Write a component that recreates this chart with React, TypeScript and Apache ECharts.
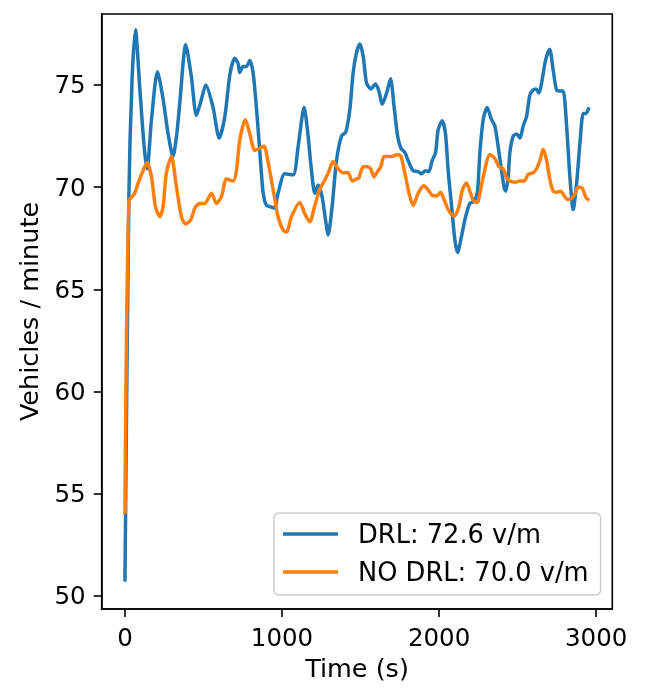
import React, { useEffect, useRef } from 'react';
import * as echarts from 'echarts';

const drlTime = [0, 25, 45, 67, 94, 122, 141, 169, 207, 243, 275, 306, 330, 349, 387, 423, 455, 487, 515, 561, 600, 636, 668, 699, 720, 731, 752, 774, 795, 816, 837, 859, 880, 901, 922, 950, 975, 1018, 1071, 1103, 1141, 1162, 1188, 1209, 1230, 1256, 1277, 1294, 1319, 1347, 1379, 1406, 1432, 1453, 1475, 1496, 1517, 1538, 1566, 1595, 1617, 1638, 1666, 1691, 1714, 1736, 1757, 1782, 1803, 1835, 1867, 1888, 1914, 1935, 1956, 1978, 1994, 2020, 2041, 2058, 2080, 2101, 2118, 2143, 2169, 2196, 2224, 2245, 2260, 2281, 2306, 2334, 2355, 2376, 2398, 2415, 2425, 2440, 2451, 2472, 2494, 2515, 2536, 2557, 2578, 2599, 2617, 2636, 2653, 2678, 2704, 2727, 2748, 2769, 2790, 2812, 2833, 2854, 2876, 2897, 2918, 2935, 2955];
const drlRate = [50.7, 69.5, 75.2, 77.7, 74.9, 72.0, 70.9, 73.3, 75.65, 74.3, 72.6, 71.5, 72.6, 74.1, 76.96, 75.4, 73.5, 74.3, 75.0, 73.9, 72.4, 73.45, 75.5, 76.3, 76.06, 75.6, 75.9, 75.9, 76.2, 75.6, 73.9, 71.7, 69.7, 69.1, 69.05, 68.97, 69.7, 70.65, 70.6, 72.0, 73.9, 72.8, 70.8, 69.7, 70.1, 69.5, 68.4, 67.66, 69.05, 71.3, 72.5, 72.7, 73.8, 75.6, 76.6, 77.0, 76.4, 75.1, 74.8, 75.05, 74.7, 74.05, 74.6, 75.3, 73.9, 72.5, 71.9, 71.7, 71.3, 70.8, 70.76, 70.65, 70.8, 70.76, 71.3, 71.7, 72.8, 73.25, 72.6, 70.8, 69.05, 67.4, 66.8, 67.6, 68.55, 69.2, 69.3, 69.8, 71.7, 73.3, 73.9, 73.3, 73.0, 72.0, 70.8, 69.95, 69.8, 70.5, 71.7, 72.5, 72.6, 72.4, 73.0, 73.45, 74.5, 74.75, 74.8, 74.6, 75.1, 76.2, 76.75, 75.7, 74.75, 74.7, 74.7, 73.0, 70.5, 68.9, 70.2, 72.15, 73.6, 73.6, 73.9];

const noDrlTime = [0, 25, 62, 84, 115, 141, 169, 194, 222, 243, 264, 296, 328, 360, 385, 419, 445, 476, 508, 551, 583, 615, 646, 689, 710, 731, 767, 795, 827, 859, 886, 912, 943, 975, 1007, 1029, 1060, 1113, 1145, 1177, 1209, 1241, 1273, 1298, 1325, 1357, 1389, 1421, 1447, 1474, 1489, 1517, 1545, 1564, 1585, 1608, 1629, 1650, 1676, 1701, 1736, 1757, 1782, 1809, 1835, 1867, 1903, 1931, 1956, 1984, 2010, 2033, 2058, 2083, 2101, 2126, 2150, 2175, 2196, 2217, 2239, 2249, 2281, 2324, 2355, 2381, 2408, 2430, 2451, 2483, 2515, 2542, 2568, 2599, 2621, 2642, 2663, 2685, 2706, 2727, 2748, 2776, 2797, 2818, 2844, 2865, 2886, 2911, 2935, 2955];
const noDrlRate = [54.0, 69.3, 69.7, 70.2, 70.8, 71.2, 70.5, 69.05, 68.55, 69.05, 70.7, 71.5, 70.0, 68.55, 68.2, 68.4, 68.97, 69.2, 69.2, 69.7, 69.2, 69.55, 70.4, 70.3, 70.8, 72.3, 73.3, 72.6, 71.8, 71.9, 72.0, 71.2, 69.9, 68.55, 67.9, 67.8, 68.55, 69.25, 68.7, 68.3, 69.1, 69.9, 70.35, 70.76, 71.25, 70.9, 70.7, 70.7, 70.3, 70.4, 70.45, 71.0, 71.0, 70.9, 70.5, 70.76, 71.0, 71.5, 71.5, 71.5, 71.6, 71.5, 70.7, 69.7, 69.1, 69.7, 70.07, 69.86, 69.6, 69.57, 69.75, 69.37, 68.9, 68.64, 68.6, 69.05, 69.9, 70.2, 69.8, 69.37, 69.25, 69.3, 70.5, 71.6, 71.4, 71.0, 70.9, 70.45, 70.3, 70.24, 70.3, 70.3, 70.63, 70.7, 70.9, 71.3, 71.85, 71.3, 70.35, 69.8, 69.75, 69.8, 69.57, 69.4, 69.45, 69.67, 70.0, 69.95, 69.5, 69.35];

const xTicks = [0, 1000, 2000, 3000];
const yTicks = [50, 55, 60, 65, 70, 75];
const seriesNames = ['DRL: 72.6 v/m', 'NO DRL: 70.0 v/m'];
const seriesColors = ['#1f77b4', '#ff7f0e'];

const zip = (a: number[], b: number[]) => a.map((t, i) => [t, b[i]]);

export default function App() {
  const ref = useRef<HTMLDivElement>(null);
  useEffect(() => {
    const chart = echarts.init(ref.current!, null, { renderer: 'svg' });
    const font = 'DejaVu Sans';
    chart.setOption({
      animation: false,
      textStyle: { fontFamily: font },
      grid: {
        left: 101.7, right: 37.7, top: 14, bottom: 80,
        show: true, borderColor: '#000', borderWidth: 1.6, backgroundColor: 'transparent',
      },
      xAxis: {
        type: 'value', min: -148, max: 3103,
        name: 'Time (s)', nameLocation: 'middle', nameGap: 40,
        nameTextStyle: { fontSize: 25.5, color: '#000', fontFamily: font },
        axisLine: { show: true, onZero: false, lineStyle: { color: '#000', width: 1.6 } },
        axisTick: { show: true, length: 8, lineStyle: { color: '#000', width: 1.6 }, customValues: xTicks },
        axisLabel: { customValues: xTicks, fontSize: 24.5, color: '#000', margin: 16, fontFamily: font, formatter: (v: number) => String(v) },
        splitLine: { show: false },
      },
      yAxis: {
        type: 'value', min: 49.36, max: 78.47,
        name: 'Vehicles / minute', nameLocation: 'middle', nameGap: 60, nameRotate: 90,
        nameTextStyle: { fontSize: 25.5, color: '#000', fontFamily: font },
        axisLine: { show: true, onZero: false, lineStyle: { color: '#000', width: 1.6 } },
        axisTick: { show: true, length: 8, lineStyle: { color: '#000', width: 1.6 }, customValues: yTicks },
        axisLabel: { customValues: yTicks, fontSize: 24.5, color: '#000', margin: 16, fontFamily: font, formatter: (v: number) => String(v) },
        splitLine: { show: false },
      },
      legend: {
        orient: 'vertical', left: 274, top: 513,
        padding: [8, 12, 10, 9],
        itemWidth: 55, itemHeight: 3.5, itemGap: 12,
        icon: 'rect',
        backgroundColor: 'rgba(255,255,255,0.8)', borderColor: '#cccccc', borderWidth: 1.5, borderRadius: 5,
        textStyle: { fontSize: 25.7, color: '#000', fontFamily: font, padding: [0, 0, 0, 15], lineHeight: 26 },
        data: seriesNames,
      },
      series: [
        {
          type: 'line', name: seriesNames[0], data: zip(drlTime, drlRate),
          showSymbol: false, symbol: 'none', smooth: 0.25,
          lineStyle: { width: 3.5, color: seriesColors[0] }, itemStyle: { color: seriesColors[0] },
        },
        {
          type: 'line', name: seriesNames[1], data: zip(noDrlTime, noDrlRate),
          showSymbol: false, symbol: 'none', smooth: 0.25,
          lineStyle: { width: 3.5, color: seriesColors[1] }, itemStyle: { color: seriesColors[1] },
        },
      ],
    });
    return () => chart.dispose();
  }, []);
  return <div ref={ref} style={{ position: 'fixed', left: 0, top: 0, width: 650, height: 689 }} />;
}
